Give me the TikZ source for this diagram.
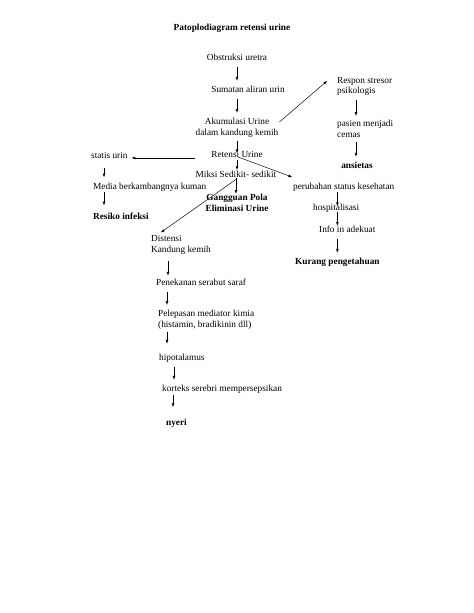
\documentclass[tikz,border=0pt]{standalone}
\usepackage{fontspec}
\setmainfont{Liberation Serif}
\usepackage{tikz}
\usetikzlibrary{calc,arrows,positioning}

\begin{document}
\begin{tikzpicture}[x=1.291pt,y=1.291pt,
    lbl/.style={font=\fontsize{12pt}{14pt}\selectfont,text height=8.5pt,text depth=2.5pt},
    lblb/.style={lbl,font=\fontsize{12pt}{14pt}\selectfont\bfseries},
    two/.style={font=\fontsize{12pt}{14pt}\selectfont,align=left,anchor=west},
    lft/.style={anchor=west},
    arr/.style={black,line width=0.6pt,-latex},
    down/.style={arr,shorten <=6.5pt,shorten >=6.5pt}]
\tikzstyle{every node}+=[inner sep=0pt]
\useasboundingbox (0,0) rectangle (474,-613);
\node[lblb] (title) at (232,-28) {Patoplodiagram retensi urine};
\node[lbl] (obstruksi) at (237,-58) {Obstruksi uretra};
\node[lbl] (sumatan) at (248,-90) {Sumatan aliran urin};
\node[two,align=center,anchor=center] (akumulasi) at (237,-127.5) {Akumulasi Urine\\dalam kandung kemih};
\node[lbl] (retensi) at (237,-155) {Retensi Urine};
\node[lbl,lft] (statis) at (91,-156) {statis urin};
\node[lbl] (miksi) at (236,-175) {Miksi Sedikit- sedikit};
\node[lbl,lft] (media) at (93,-187) {Media berkambangnya kuman};
\node[lblb,lft] (resiko) at (93,-217) {Resiko infeksi};
\node[two,align=center,anchor=center,font=\fontsize{12pt}{14pt}\selectfont\bfseries] (gangguan) at (237,-202.5) {Gangguan Pola\\Eliminasi Urine};
\node[two] (distensi) at (151,-245) {Distensi\\Kandung kemih};
\node[lbl,lft] (penekanan) at (156,-283) {Penekanan serabut saraf};
\node[two] (pelepasan) at (158,-319.5) {Pelepasan mediator kimia\\(histamin, bradikinin dll)};
\node[lbl,lft] (hipotalamus) at (159,-358) {hipotalamus};
\node[lbl,lft] (korteks) at (162,-389) {korteks serebri mempersepsikan};
\node[lblb,lft] (nyeri) at (166,-423) {nyeri};
\node[two] (respon) at (337,-86.5) {Respon stresor\\psikologis};
\node[two] (pasien) at (337,-128.5) {pasien menjadi\\cemas};
\node[lblb] (ansietas) at (357,-166) {ansietas};
\node[lbl,lft] (perubahan) at (293,-187) {perubahan status kesehatan};
\node[lbl,lft] (hospital) at (313,-208) {hospitalisasi};
\node[lbl,lft] (info) at (319,-230) {Info in adekuat};
\node[lblb,lft] (kurang) at (295,-262) {Kurang pengetahuan};

\draw[down] (obstruksi.south) -- (obstruksi.south |- sumatan.north);
\draw[down] (akumulasi.north |- sumatan.south) -- (akumulasi.north);
\draw[arr,shorten <=5pt,shorten >=-3pt] (akumulasi.south) -- (retensi.north);
\draw[arr] ($(retensi.west)+(-16,-3)$) -- ($(statis.east)+(4,-2)$);
\draw[arr,shorten <=1pt,shorten >=1pt] (retensi.south) -- (retensi.south |- miksi.north);
\draw[arr] ($(retensi.center)+(1,-2)$) -- ($(perubahan.west)+(-1,10)$);
\draw[arr,shorten <=-2pt] (miksi.south) -- (miksi.south |- gangguan.north);
\draw[arr] (miksi.south) -- ($(distensi.north west)+(10,3)$);
\draw[arr,shorten <=10pt,shorten >=7pt] ($(statis.south west)+(13,0)$) -- ($(statis.south west |- media.north)+(13,0)$);
\draw[arr,shorten <=1pt,shorten >=9.5pt] ($(statis.south west |- media.south)+(13,0)$) -- ($(statis.south west |- resiko.north)+(13,0)$);
\draw[arr,shorten <=8pt,shorten >=4pt] ($(distensi.south west)+(17,0)$) -- ($(distensi.south west |- penekanan.north)+(17,0)$);
\draw[down] ($(penekanan.south west)+(11,0)$) -- ($(penekanan.south west |- pelepasan.north)+(11,0)$);
\draw[arr,shorten <=4pt,shorten >=13pt] ($(pelepasan.south west)+(9,0)$) -- ($(pelepasan.south west |- hipotalamus.north)+(9,0)$);
\draw[down] ($(hipotalamus.south west)+(15,0)$) -- ($(hipotalamus.south west |- korteks.north)+(15,0)$);
\draw[arr,shorten <=2pt,shorten >=15pt] ($(korteks.south west)+(11,0)$) -- ($(korteks.south west |- nyeri.north)+(11,0)$);
\draw[arr] ($(akumulasi.east)+(1,5.5)$) -- ($(respon.west)+(-10,5.5)$);
\draw[arr,shorten <=5pt,shorten >=5pt] ($(respon.south west)+(19,0)$) -- ($(respon.south west |- pasien.north)+(19,0)$);
\draw[down] ($(pasien.south west)+(19,0)$) -- ($(pasien.south west |- ansietas.north)+(19,0)$);
\draw[arr,shorten <=1pt,shorten >=-3pt] (kurang.north |- perubahan.south) -- (kurang.north |- hospital.north);
\draw[arr] (kurang.north |- hospital.south) -- (kurang.north |- info.north);
\draw[down] (kurang.north |- info.south) -- (kurang.north);
\end{tikzpicture}
\end{document}
